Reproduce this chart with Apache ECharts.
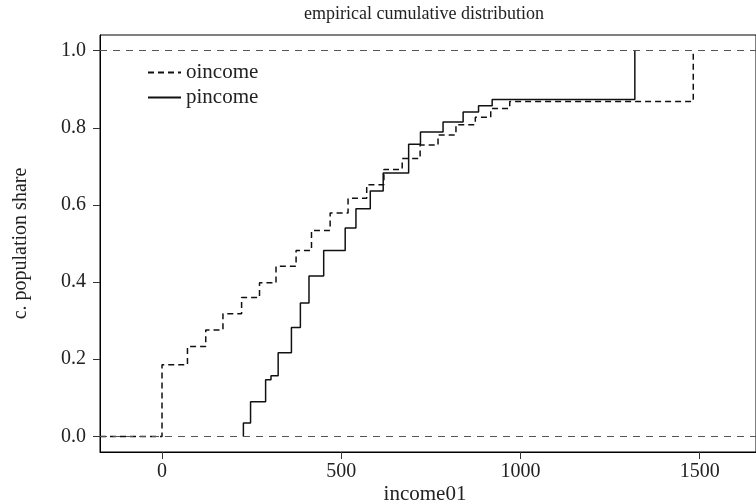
<!DOCTYPE html>
<html>
<head>
<meta charset="utf-8">
<script src="https://cdn.jsdelivr.net/npm/echarts@6/dist/echarts.min.js"></script>
<style>
  html, body { margin: 0; padding: 0; background: #fff; }
  #chart { width: 756px; height: 504px; }
</style>
</head>
<body>
<div id="chart"></div>
<script>
// step points (x, cumulative share)
const oincomeX = [-173, 0, 71, 122, 170, 222, 272, 318, 374, 417, 469, 519, 571, 619, 670, 720, 770, 820, 874, 917, 970, 1482];
const oincomeY = [0, 0.186, 0.233, 0.276, 0.318, 0.360, 0.398, 0.441, 0.482, 0.534, 0.579, 0.617, 0.652, 0.692, 0.720, 0.755, 0.781, 0.808, 0.827, 0.850, 0.868, 1.0];
const pincomeX = [227, 227, 247, 289, 304, 324, 361, 386, 410, 451, 511, 541, 581, 617, 688, 721, 784, 840, 883, 921, 1319];
const pincomeY = [0, 0.035, 0.090, 0.147, 0.157, 0.217, 0.282, 0.346, 0.416, 0.482, 0.540, 0.590, 0.636, 0.683, 0.757, 0.789, 0.815, 0.841, 0.857, 0.873, 1.0];
const xTicks = [0, 500, 1000, 1500];
const yTicks = [0, 0.2, 0.4, 0.6, 0.8, 1.0];
const refLines = [0, 1];

const font = 'Liberation Serif';
const ink = '#222';

const chart = echarts.init(document.getElementById('chart'), null, { renderer: 'canvas' });

const zip = (xs, ys) => xs.map((x, i) => [x, ys[i]]);

const option = {
  animation: false,
  textStyle: { fontFamily: font, color: ink },
  title: [
    {
      text: 'empirical cumulative distribution',
      left: 419, top: 0, textAlign: 'center',
      textStyle: { fontFamily: font, fontSize: 18, fontWeight: 'normal', color: ink },
    },
    {
      text: 'income01',
      left: 420, top: 479, textAlign: 'center',
      textStyle: { fontFamily: font, fontSize: 21, fontWeight: 'normal', color: ink },
    },
  ],
  legend: {
    data: ['oincome', 'pincome'],
    orient: 'vertical',
    left: 142, top: 57,
    itemWidth: 33, itemHeight: 14, itemGap: 4, itemTextGap: 6,
    itemStyle: { opacity: 0 },
    textStyle: { fontFamily: font, fontSize: 21, color: ink },
  },
  grid: {
    left: 100, right: -2, top: 35, bottom: 52,
    show: true, borderColor: '#000', borderWidth: 1,
  },
  xAxis: {
    type: 'value',
    min: -173, max: 1657,
    splitLine: { show: false },
    axisLine: { show: true, onZero: false, lineStyle: { color: '#000' } },
    axisTick: { show: true, length: 7, customValues: xTicks, lineStyle: { color: '#333' } },
    axisLabel: {
      customValues: xTicks, fontSize: 20, color: ink, margin: 10, fontFamily: font,
      formatter: (v) => String(v),
    },
  },
  yAxis: {
    type: 'value',
    min: -0.0404, max: 1.0404,
    name: 'c. population share',
    nameLocation: 'middle', nameGap: 69, nameRotate: 90,
    nameTextStyle: { fontFamily: font, fontSize: 20, color: ink },
    splitLine: { show: false },
    axisLine: { show: true, onZero: false, lineStyle: { color: '#000' } },
    axisTick: { show: true, length: 7, customValues: yTicks, lineStyle: { color: '#333' } },
    axisLabel: {
      customValues: yTicks, fontSize: 20, color: ink, margin: 14, fontFamily: font,
      formatter: (v) => v.toFixed(1),
    },
  },
  series: [
    {
      name: 'ref', type: 'line', data: [], z: 1, silent: true,
      markLine: {
        symbol: 'none', silent: true, label: { show: false },
        lineStyle: { color: '#555', width: 1, type: [7, 6] },
        data: refLines.map((v) => ({ yAxis: v })),
      },
    },
    {
      name: 'oincome', type: 'line', step: 'end', z: 3,
      data: zip(oincomeX, oincomeY),
      symbol: 'none', showSymbol: false,
      lineStyle: { color: '#111', width: 1.5, type: [6, 4] },
      itemStyle: { color: '#111' },
    },
    {
      name: 'pincome', type: 'line', step: 'end', z: 3,
      data: zip(pincomeX, pincomeY),
      symbol: 'none', showSymbol: false,
      lineStyle: { color: '#111', width: 1.5 },
      itemStyle: { color: '#111' },
    },
  ],
};

chart.setOption(option);
window.addEventListener('resize', chart.resize);
</script>
</body>
</html>
